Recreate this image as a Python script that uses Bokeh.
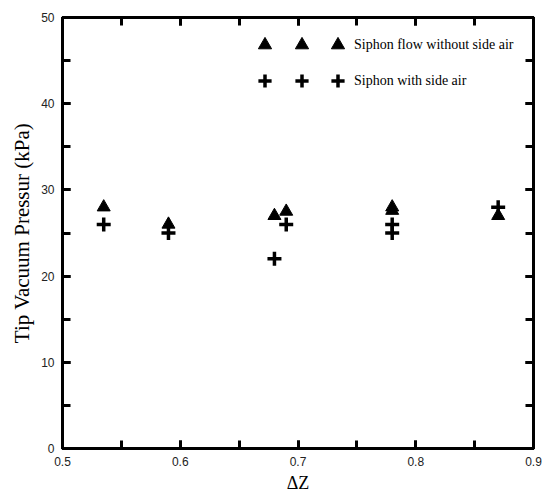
from bokeh.plotting import figure
from bokeh.models import (Range1d, LinearAxis, SingleIntervalTicker, Legend, LegendItem,
                          CustomJSTickFormatter)
from bokeh.embed import file_html
from bokeh.resources import INLINE

# data
x_without = [0.535, 0.59, 0.68, 0.69, 0.78, 0.78, 0.87]
y_without = [28.0, 26.0, 27.0, 27.5, 28.0, 27.6, 27.0]
x_with = [0.535, 0.59, 0.68, 0.69, 0.78, 0.78, 0.87]
y_with = [26.0, 25.0, 22.0, 26.0, 26.0, 25.0, 28.0]
label_without = "Siphon flow without side air"
label_with = "Siphon with side air"
x_label = "ΔZ"
y_label = "Tip Vacuum Pressur (kPa)"

p = figure(width=550, height=501, output_backend="svg", toolbar_location=None,
           x_range=Range1d(0.5, 0.9), y_range=Range1d(0, 50),
           min_border_left=62, min_border_right=17, min_border_top=17, min_border_bottom=53,
           x_axis_label=x_label, y_axis_label=y_label)
p.grid.visible = False
p.outline_line_color = "black"
p.outline_line_width = 3
p.background_fill_color = "white"
p.border_fill_color = "white"

xt = SingleIntervalTicker(interval=0.1, num_minor_ticks=2)
yt = SingleIntervalTicker(interval=10, num_minor_ticks=2)
p.xaxis.ticker = xt
p.yaxis.ticker = yt

for ax in [p.xaxis[0], p.yaxis[0]]:
    ax.axis_line_width = 3
    ax.major_tick_line_width = 3
    ax.minor_tick_line_width = 3
    ax.major_tick_in = 8
    ax.major_tick_out = 0
    ax.minor_tick_in = 8
    ax.minor_tick_out = 0
    ax.major_label_text_font = "Liberation Sans"
    ax.major_label_text_font_size = "12px"
    ax.major_label_text_color = "#222222"
    ax.axis_label_text_font = "Liberation Serif"
    ax.axis_label_text_font_style = "normal"
    ax.axis_label_text_color = "black"

p.yaxis.axis_label_text_font_size = "21px"
p.xaxis.axis_label_text_font_size = "18px"
p.xaxis.major_label_standoff = 8
p.xaxis.axis_label_standoff = 4
p.yaxis.major_label_standoff = 8
p.yaxis.axis_label_standoff = 4

blank = CustomJSTickFormatter(code="return ''")
for loc, tk in [("right", yt), ("above", xt)]:
    ax = LinearAxis(ticker=tk, formatter=blank)
    ax.axis_line_width = 3
    ax.major_tick_line_width = 3
    ax.minor_tick_line_width = 3
    ax.major_tick_in = 8
    ax.major_tick_out = 0
    ax.minor_tick_in = 8
    ax.minor_tick_out = 0
    ax.major_label_standoff = 0
    p.add_layout(ax, loc)

r_tri = p.scatter(x_without, y_without, marker="triangle", size=13,
                  fill_color="black", line_color="black")
r_cross = p.scatter(x_with, y_with, marker="cross", size=14,
                    line_color="black", line_width=3.5)

def make_legend(labels, loc):
    lg = Legend(items=[LegendItem(label=labels[0], renderers=[r_tri]),
                       LegendItem(label=labels[1], renderers=[r_cross])],
                location=loc, padding=0, margin=0, spacing=3,
                glyph_width=33, glyph_height=33, label_height=20,
                label_standoff=0, border_line_color=None,
                background_fill_alpha=0,
                label_text_font="Liberation Serif", label_text_font_size="14px",
                label_text_color="black")
    p.add_layout(lg, "center")

make_legend([label_without, label_with], (259, 351))
make_legend(["", ""], (223, 351))
make_legend(["", ""], (186, 351))

open("out.html", "w").write(file_html(p, INLINE))
